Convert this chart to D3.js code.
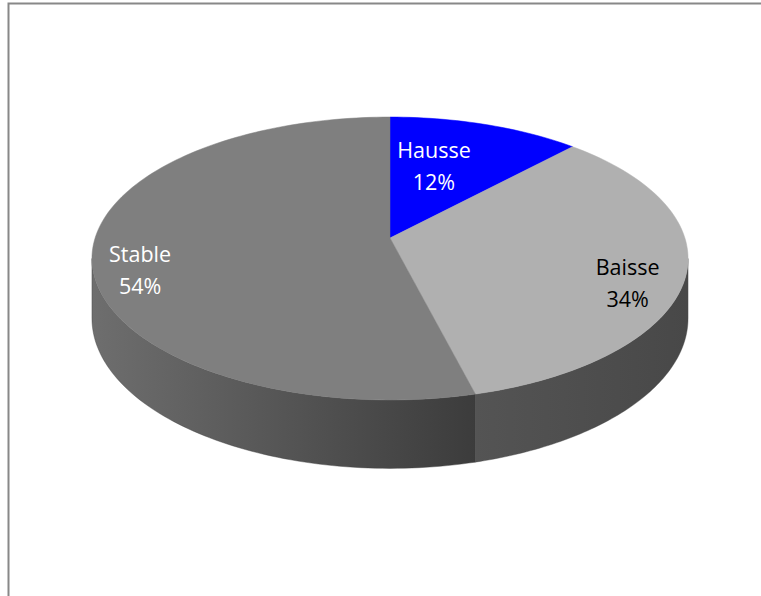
<!DOCTYPE html>
<html>
<head>
<meta charset="utf-8">
<script src="https://cdn.jsdelivr.net/npm/d3@7"></script>
<style>
  html, body { margin: 0; padding: 0; background: #ffffff; }
  svg { display: block; }
</style>
</head>
<body>
<svg id="chart" width="761" height="596"></svg>
<script>
// Share of answers per trend
const categories = ["Hausse", "Baisse", "Stable"];
const values = [12, 34, 54];

// Slice styling: top face colour, side wall gradient (left -> right), label colour
const topColors = ["#0000ff", "#b0b0b0", "#7f7f7f"];
const sideColors = [["#0000a8", "#000080"], ["#545454", "#484848"], ["#6e6e6e", "#3c3c3c"]];
const labelColors = ["#ffffff", "#000000", "#ffffff"];

// Label placement on the disc: radius (fraction of R) and angular shift from the slice middle (deg)
const labelLayout = [
  { r: 0.585, shift: -5.6 },
  { r: 0.83, shift: 7.6 },
  { r: 0.85, shift: -8.1 }
];

const W = 761, H = 596;
const svg = d3.select("#chart");

// Chart frame
svg.append("path")
  .attr("d", `M8.5,${H} V3.5 H${W}`)
  .attr("fill", "none")
  .attr("stroke", "#888888")
  .attr("stroke-width", 2);

// Tilted disc seen in perspective
const cx = 390, cy = 238;   // image of the disc centre
const A = 294.9;            // horizontal scale
const B = 138.5;            // depth scale
const k = 0.145;            // perspective factor
const depth = 58.5;         // wall height

function proj(theta, r, level) {
  const u = r * Math.sin(theta), v = r * Math.cos(theta);
  const den = 1 + k * v;
  return [cx + A * u / den, cy - B * v / den + (level || 0) * depth / den];
}

const pie = d3.pie().sort(null).value(d => d.value).startAngle(0).endAngle(2 * Math.PI);
const data = categories.map((c, i) => ({ name: c, value: values[i], i }));
const arcs = pie(data);
const total = d3.sum(values);

const line = d3.line();

function sample(a0, a1, n) {
  return d3.range(n + 1).map(j => a0 + (a1 - a0) * j / n);
}

const defs = svg.append("defs");

// Side walls: only the front part of the rim is visible
const visFrom = Math.acos(-k), visTo = 2 * Math.PI - Math.acos(-k);
const sides = svg.append("g");
arcs.forEach(a => {
  const a0 = Math.max(a.startAngle, visFrom), a1 = Math.min(a.endAngle, visTo);
  if (a1 <= a0) return;
  const angs = sample(a0, a1, 80);
  const topEdge = angs.map(t => proj(t, 1, 0));
  const botEdge = angs.slice().reverse().map(t => proj(t, 1, 1));
  const gid = "side" + a.data.i;
  const g = defs.append("linearGradient").attr("id", gid)
    .attr("x1", 0).attr("y1", 0).attr("x2", 1).attr("y2", 0);
  g.append("stop").attr("offset", 0).attr("stop-color", sideColors[a.data.i][0]);
  g.append("stop").attr("offset", 1).attr("stop-color", sideColors[a.data.i][1]);
  sides.append("path")
    .attr("d", line(topEdge.concat(botEdge)) + "Z")
    .attr("fill", `url(#${gid})`)
    .attr("stroke", sideColors[a.data.i][1])
    .attr("stroke-width", 0.4);
});

// Top faces
const tops = svg.append("g");
arcs.forEach(a => {
  const n = Math.max(8, Math.round((a.endAngle - a.startAngle) / (2 * Math.PI) * 240));
  const pts = [proj(0, 0, 0)].concat(sample(a.startAngle, a.endAngle, n).map(t => proj(t, 1, 0)));
  tops.append("path")
    .attr("d", line(pts) + "Z")
    .attr("fill", topColors[a.data.i])
    .attr("stroke", topColors[a.data.i])
    .attr("stroke-width", 0.5)
    .attr("stroke-linejoin", "round");
});

// Data labels: category name and percentage
const labels = svg.append("g")
  .attr("font-family", "'Open Sans', 'Noto Sans', sans-serif")
  .attr("font-size", "21.5px")
  .attr("text-anchor", "middle");
arcs.forEach(a => {
  const lay = labelLayout[a.data.i];
  const mid = (a.startAngle + a.endAngle) / 2 + lay.shift * Math.PI / 180;
  const [x, y] = proj(mid, lay.r, 0);
  const t = labels.append("text")
    .attr("fill", labelColors[a.data.i])
    .attr("x", x).attr("y", y - 8);
  t.append("tspan").attr("x", x).attr("dy", 0).text(a.data.name);
  t.append("tspan").attr("x", x).attr("dy", 32)
    .text(Math.round(a.data.value / total * 100) + "%");
});
</script>
</body>
</html>
